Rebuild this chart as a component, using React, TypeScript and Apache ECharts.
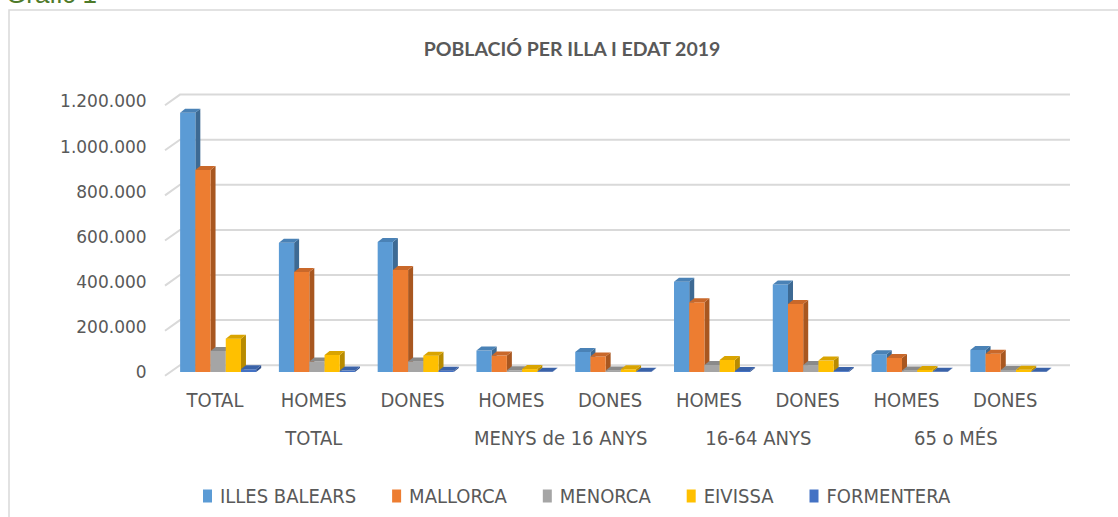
import React, { useEffect, useRef } from "react";
import * as echarts from "echarts";

const categories = ["TOTAL", "HOMES", "DONES", "HOMES", "DONES", "HOMES", "DONES", "HOMES", "DONES"];
const groupAxisLabels = ["", "", "", "TOTAL", "", "", "", "", "MENYS de 16 ANYS", "", "", "", "16-64 ANYS", "", "", "", "65 o MÉS", "", ""];
const seriesNames = ["ILLES BALEARS", "MALLORCA", "MENORCA", "EIVISSA", "FORMENTERA"];
const illesBalears = [1149460, 573000, 576460, 95000, 89000, 400000, 388000, 79000, 98000];
const mallorca = [896038, 444000, 452000, 73000, 69000, 309000, 302000, 62000, 81000];
const menorca = [93397, 46300, 47100, 7600, 7100, 31500, 30800, 7200, 9200];
const eivissa = [147914, 75500, 72400, 13000, 12200, 53500, 50500, 9000, 9700];
const formentera = [12111, 6300, 5800, 1100, 1000, 4500, 3900, 700, 900];
const yTicks = [0, 200000, 400000, 600000, 800000, 1000000, 1200000];

const seriesValues = [illesBalears, mallorca, menorca, eivissa, formentera];
const palette = [
  { front: "#5B9BD5", top: "#4A82B6", side: "#3D6A94" },
  { front: "#ED7D31", top: "#C9682A", side: "#A85720" },
  { front: "#A5A5A5", top: "#8A8A8A", side: "#777777" },
  { front: "#FFC000", top: "#D9A400", side: "#B88B00" },
  { front: "#4472C4", top: "#3A62A8", side: "#2E4F8C" },
];

const NARROW = "'Liberation Sans Narrow', 'DejaVu Sans Condensed', 'Liberation Sans', sans-serif";

function fmt(v: number) {
  return String(v).replace(/\B(?=(\d{3})+(?!\d))/g, ".");
}

function makeBarRender(i: number) {
  const c = palette[i];
  return (params: any, api: any) => {
    const cat = api.value(0);
    const val = api.value(1);
    const base = api.coord([cat, 0]);
    const top = api.coord([cat, val]);
    const bw = api.size([1, 0])[0];
    const w = bw * 0.154;
    const x = base[0] - bw / 2 + bw * 0.147 + i * w;
    const y0 = base[1];
    const y1 = top[1];
    const dx = 5;
    const dy = 4;
    return {
      type: "group",
      children: [
        {
          type: "polygon",
          shape: { points: [[x + w, y1], [x + w + dx, y1 - dy], [x + w + dx, y0 - dy], [x + w, y0]] },
          style: { fill: c.side },
        },
        {
          type: "rect",
          shape: { x: x, y: y1, width: w, height: Math.max(0, y0 - y1) },
          style: { fill: c.front },
        },
        {
          type: "polygon",
          shape: { points: [[x, y1], [x + dx, y1 - dy], [x + w + dx, y1 - dy], [x + w, y1]] },
          style: { fill: c.top },
        },
      ],
    };
  };
}

function gridRender(params: any, api: any) {
  const v = api.value(1);
  const y = api.coord([0, v])[1];
  const cs = params.coordSys;
  return {
    type: "polyline",
    shape: { points: [[cs.x - 0.6, y + 3.8], [cs.x + 14.4, y - 6.8], [1070, y - 6.8]] },
    style: { stroke: "#D9D9D9", lineWidth: 2, fill: "none" },
  };
}

export default function App() {
  const ref = useRef<HTMLDivElement>(null);
  useEffect(() => {
    if (!ref.current) return;
    const chart = echarts.init(ref.current, undefined, { renderer: "svg" });
    const barSeries = seriesValues.map((vals, i) => ({
      type: "custom",
      name: seriesNames[i],
      xAxisIndex: 0,
      yAxisIndex: 0,
      renderItem: makeBarRender(i),
      data: vals.map((v, k) => [k, v]),
      encode: { x: 0, y: 1 },
      itemStyle: { color: palette[i].front },
      z: 3,
    }));
    chart.setOption({
      animation: false,
      backgroundColor: "#FFFFFF",
      title: {
        text: "POBLACIÓ PER ILLA I EDAT 2019",
        left: 567,
        textAlign: "center",
        top: 33,
        textStyle: { color: "#595959", fontFamily: "Lato", fontWeight: "bold", fontSize: 19.5 },
      },
      graphic: [
        {
          type: "rect",
          shape: { x: 9, y: 10, width: 1300, height: 700 },
          style: { fill: "none", stroke: "#D9D9D9", lineWidth: 1.5 },
          z: -1,
        },
        {
          type: "text",
          left: 6,
          top: -19,
          style: { text: "Gràfic 1", fill: "#4E7A2A", font: "26px 'Liberation Sans', sans-serif" },
        },
      ],
      legend: {
        data: seriesNames,
        left: 198,
        top: 481,
        icon: "rect",
        itemWidth: 9,
        itemHeight: 13,
        itemGap: 36,
        textStyle: { color: "#595959", fontSize: 20, fontFamily: NARROW, padding: [0, 0, 0, 3] },
      },
      grid: { left: 165.6, right: 63.4, top: 101.4, bottom: 145, containLabel: false },
      xAxis: [
        {
          type: "category",
          data: categories,
          axisLine: { show: false },
          axisTick: { show: false },
          axisLabel: { color: "#595959", fontSize: 20, fontFamily: NARROW, margin: 18, interval: 0 },
        },
        {
          type: "category",
          data: groupAxisLabels,
          boundaryGap: false,
          position: "bottom",
          offset: 38,
          axisLine: { show: false },
          axisTick: { show: false },
          axisLabel: { color: "#595959", fontSize: 20, fontFamily: NARROW, margin: 18, interval: 0 },
        },
      ],
      yAxis: {
        type: "value",
        min: 0,
        max: 1200000,
        interval: 200000,
        axisLine: { show: false },
        axisTick: { show: false },
        splitLine: { show: false },
        axisLabel: {
          color: "#595959",
          fontSize: 17,
          fontFamily: "'DejaVu Sans', sans-serif",
          margin: 19,
          padding: [6, 0, 0, 0],
          formatter: (v: number) => fmt(v),
        },
      },
      series: [
        {
          type: "custom",
          name: "grid",
          xAxisIndex: 0,
          yAxisIndex: 0,
          renderItem: gridRender,
          data: yTicks.map((v) => [0, v]),
          encode: { x: 0, y: 1 },
          silent: true,
          z: 1,
        },
        ...barSeries,
      ],
    });
    return () => chart.dispose();
  }, []);
  return <div ref={ref} style={{ position: "absolute", left: 0, top: 0, width: 1118, height: 517 }} />;
}
